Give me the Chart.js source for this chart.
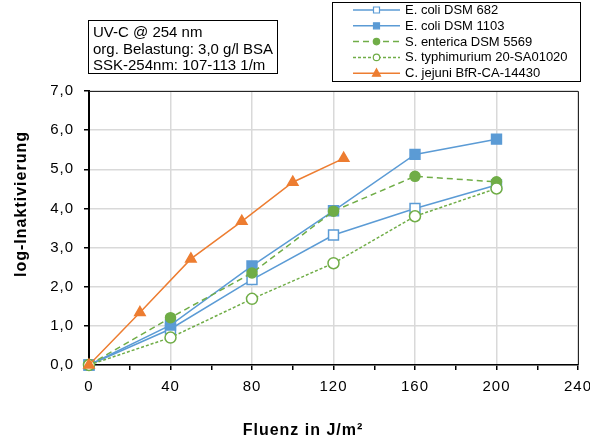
<!DOCTYPE html>
<html>
<head>
<meta charset="utf-8">
<script src="https://cdn.jsdelivr.net/npm/chart.js@4.4.1/dist/chart.umd.min.js"></script>
<style>
  html, body { margin: 0; padding: 0; background: #fff; }
  #wrap { width: 590px; height: 443px; position: relative; }
</style>
</head>
<body>
<div id="wrap"><canvas id="chart"></canvas></div>
<script>
// Werte
const fluence        = [0, 40, 80, 120, 160, 200];
const fluenceJejuni  = [0, 25, 50, 75, 100, 125];
const ecoli682       = [0, 0.92, 2.18, 3.32, 4.00, 4.60];
const ecoli1103      = [0, 1.02, 2.53, 3.94, 5.38, 5.77];
const enterica5569   = [0, 1.21, 2.35, 3.93, 4.82, 4.68];
const typhimurium    = [0, 0.70, 1.69, 2.60, 3.80, 4.51];
const jejuni14430    = [0, 1.34, 2.71, 3.67, 4.67, 5.28];

const seriesNames = [
    "E. coli DSM 682",
    "E. coli DSM 1103",
    "S. enterica DSM 5569",
    "S. typhimurium 20-SA01020",
    "C. jejuni BfR-CA-14430"
];
const infoLines = ["UV-C @ 254 nm", "org. Belastung: 3,0 g/l BSA", "SSK-254nm: 107-113 1/m"];
const xTitle = "Fluenz in J/m²";
const yTitle = "log-Inaktivierung";

const BLUE = "#5b9bd5", GREEN = "#70ad47", ORANGE = "#ed7d31";
const FONT = "'Liberation Sans', Arial, sans-serif";

const toXY = (xs, ys) => xs.map((x, i) => ({ x: x, y: ys[i] }));

const datasets = [
    { label: seriesNames[0], data: toXY(fluence, ecoli682), borderColor: BLUE, pointStyle: "rect",
      pointRadius: 7, pointBackgroundColor: "#fff", pointBorderColor: BLUE, borderDash: [] },
    { label: seriesNames[1], data: toXY(fluence, ecoli1103), borderColor: BLUE, pointStyle: "rect",
      pointRadius: 7, pointBackgroundColor: BLUE, pointBorderColor: BLUE, borderDash: [] },
    { label: seriesNames[2], data: toXY(fluence, enterica5569), borderColor: GREEN, pointStyle: "circle",
      pointRadius: 5, pointBackgroundColor: GREEN, pointBorderColor: GREEN, borderDash: [6, 4] },
    { label: seriesNames[3], data: toXY(fluence, typhimurium), borderColor: GREEN, pointStyle: "circle",
      pointRadius: 5.5, pointBackgroundColor: "#fff", pointBorderColor: GREEN, borderDash: [3, 2] },
    { label: seriesNames[4], data: toXY(fluenceJejuni, jejuni14430), borderColor: ORANGE, pointStyle: "triangle",
      pointRadius: 6, pointBackgroundColor: ORANGE, pointBorderColor: ORANGE, borderDash: [] }
].map((d, i) => Object.assign(d, {
    borderWidth: 1.5, pointBorderWidth: 1.5, pointHoverRadius: d.pointRadius,
    tension: 0, fill: false, clip: false, order: 5 - i
}));

function drawMarker(ctx, ds, x, y, r) {
    ctx.save();
    ctx.setLineDash([]);
    ctx.fillStyle = ds.pointBackgroundColor;
    ctx.strokeStyle = ds.pointBorderColor;
    ctx.lineWidth = 1.2;
    ctx.beginPath();
    if (ds.pointStyle === "rect") {
        ctx.rect(x - r, y - r, 2 * r, 2 * r);
    } else if (ds.pointStyle === "triangle") {
        ctx.moveTo(x, y - r * 1.1);
        ctx.lineTo(x + r, y + r * 0.75);
        ctx.lineTo(x - r, y + r * 0.75);
        ctx.closePath();
    } else {
        ctx.arc(x, y, r, 0, Math.PI * 2);
    }
    ctx.fill();
    ctx.stroke();
    ctx.restore();
}

// Excel spaces its glyphs a little wider than the canvas does
const spacing = {
    id: "spacing",
    beforeDraw(chart) { chart.ctx.letterSpacing = "1px"; }
};

// Rahmen, Infobox, Legende und Achsentitel
const extras = {
    id: "extras",
    afterDraw(chart) {
        const ctx = chart.ctx;
        const a = chart.chartArea;
        ctx.save();

        // top + right frame of the plot area
        ctx.strokeStyle = "#262626";
        ctx.lineWidth = 1;
        ctx.beginPath();
        ctx.moveTo(a.left, a.top + 0.5);
        ctx.lineTo(a.right + 0.5, a.top + 0.5);
        ctx.lineTo(a.right + 0.5, a.bottom);
        ctx.stroke();

        // info box
        ctx.letterSpacing = "0px";
        ctx.strokeStyle = "#000";
        ctx.strokeRect(88.5, 20.5, 189, 53);
        ctx.fillStyle = "#000";
        ctx.font = "15px " + FONT;
        ctx.textBaseline = "middle";
        ctx.textAlign = "left";
        infoLines.forEach((t, i) => ctx.fillText(t, 93, 33 + i * 16.5));

        // legend box
        ctx.fillStyle = "#fff";
        ctx.fillRect(332, 2, 249, 79);
        ctx.strokeStyle = "#000";
        ctx.strokeRect(332.5, 2.5, 248, 79);
        ctx.font = "13px " + FONT;
        chart.data.datasets.forEach((ds, i) => {
            const y = 10 + i * 15.8;
            ctx.save();
            ctx.strokeStyle = ds.borderColor;
            ctx.lineWidth = 1.5;
            ctx.setLineDash(ds.borderDash);
            ctx.beginPath();
            ctx.moveTo(353, y);
            ctx.lineTo(400, y);
            ctx.stroke();
            ctx.restore();
            const r = ds.pointStyle === "rect" ? 3 : ds.pointStyle === "triangle" ? 4 : 3.2;
            drawMarker(ctx, ds, 376.5, y, r);
            ctx.fillStyle = "#000";
            ctx.fillText(ds.label, 405, y + 0.5);
        });

        // axis titles
        ctx.letterSpacing = "1px";
        ctx.font = "bold 16px " + FONT;
        ctx.textAlign = "center";
        ctx.fillStyle = "#000";
        ctx.fillText(xTitle, 303, 431);
        ctx.translate(22, 204);
        ctx.rotate(-Math.PI / 2);
        ctx.fillText(yTitle, 0, 0);
        ctx.restore();
    }
};

new Chart(document.getElementById("chart"), {
    type: "line",
    data: { datasets: datasets },
    options: {
        responsive: true,
        maintainAspectRatio: false,
        animation: false,
        layout: { padding: { top: 91, right: 12, left: 0, bottom: 0 } },
        plugins: { legend: { display: false }, tooltip: { enabled: false } },
        scales: {
            x: {
                type: "linear",
                min: 0, max: 240,
                afterFit: s => { s.height = 78; s.paddingRight = 0; },
                border: { color: "#000", width: 1.5 },
                grid: {
                    color: c => (c.tick && c.tick.value % 40 === 0) ? "#d9d9d9" : "rgba(0,0,0,0)",
                    tickColor: "#000",
                    tickLength: 5,
                    lineWidth: 1.5
                },
                ticks: {
                    stepSize: 20,
                    autoSkip: false,
                    maxRotation: 0,
                    padding: 8,
                    color: "#000",
                    font: { family: FONT, size: 15 },
                    callback: v => (v % 40 === 0 ? String(v) : "")
                }
            },
            y: {
                min: 0, max: 7,
                afterFit: s => { s.width = 89; },
                border: { color: "#000", width: 2 },
                grid: { color: "#d9d9d9", tickColor: "#000", tickLength: 5, lineWidth: 1.5 },
                ticks: {
                    stepSize: 1,
                    padding: 10,
                    color: "#000",
                    font: { family: FONT, size: 15 },
                    callback: v => v.toFixed(1).replace(".", ",")
                }
            }
        }
    },
    plugins: [spacing, extras]
});
</script>
</body>
</html>
